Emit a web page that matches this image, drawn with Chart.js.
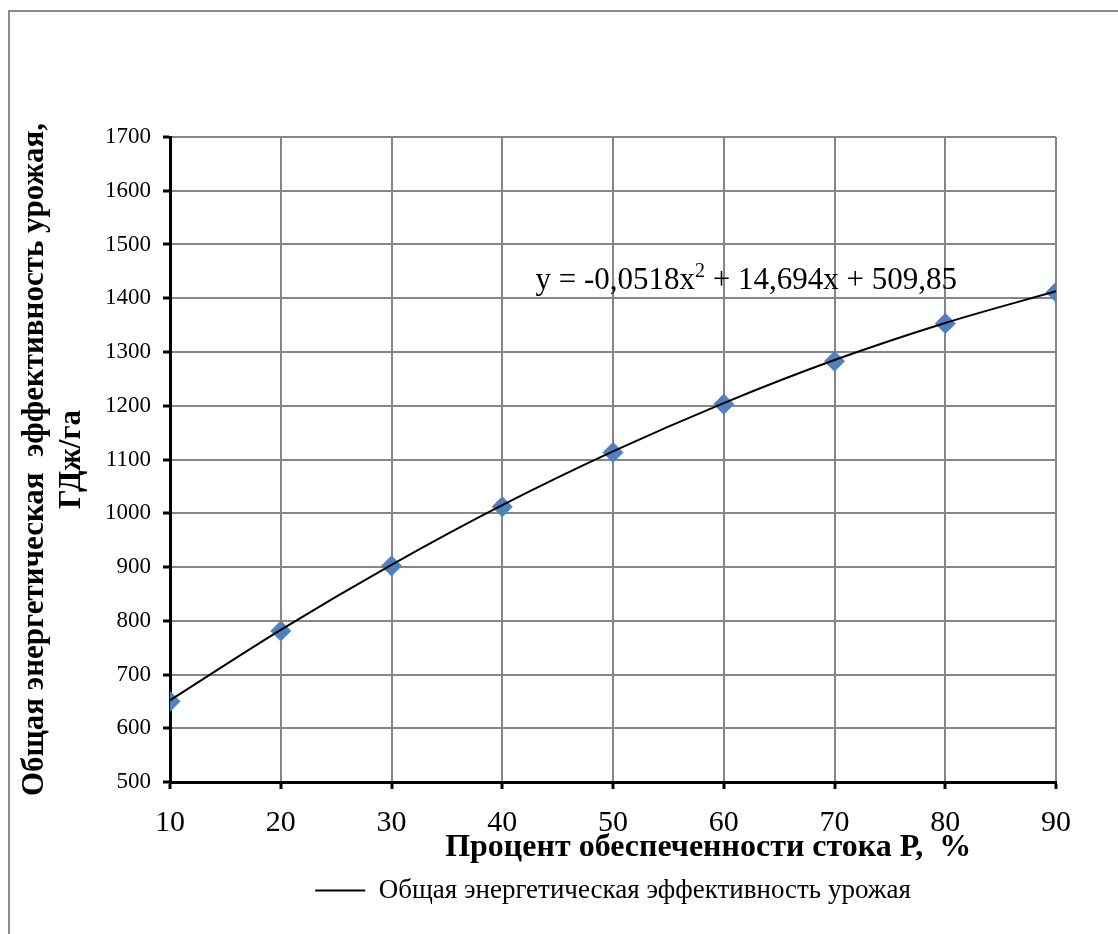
<!DOCTYPE html>
<html>
<head>
<meta charset="utf-8">
<style>
  html, body { margin: 0; padding: 0; background: #fff; }
  #wrap { position: relative; width: 1118px; height: 934px; }
</style>
<script src="https://cdn.jsdelivr.net/npm/chart.js@4"></script>
</head>
<body>
<div id="wrap"><canvas id="energyChart" width="1118" height="934"></canvas></div>
<script>
// 데이터
const percentP = [10, 20, 30, 40, 50, 60, 70, 80, 90];
const energyValues = [650, 781, 902, 1012, 1113, 1203, 1283, 1353, 1411];
const trendValues = [652, 783, 904, 1015, 1115, 1205, 1285, 1354, 1413];
const seriesName = 'Общая энергетическая эффективность урожая';
const yTitle = ['Общая энергетическая  эффективность урожая,', 'ГДж/га'];
const xTitle = 'Процент обеспеченности стока Р,  %';
const equationText = 'y = -0,0518x';
const equationRest = ' + 14,694x + 509,85';

const serif = '"Liberation Serif", "Times New Roman", serif';

// 바깥 테두리 + x축 제목 + 추세선 수식
const decorPlugin = {
  id: 'decor',
  beforeDraw(chart) {
    const ctx = chart.ctx;
    ctx.save();
    ctx.fillStyle = '#fff';
    ctx.fillRect(0, 0, chart.width, chart.height);
    ctx.strokeStyle = '#8c8c8c';
    ctx.lineWidth = 2;
    ctx.strokeRect(9, 11, 1300, 1100);
    ctx.restore();
  },
  afterDraw(chart) {
    const ctx = chart.ctx;
    const xs = chart.scales.x;
    const ys = chart.scales.y;
    ctx.save();
    ctx.fillStyle = '#000';
    // x축 제목
    ctx.font = 'bold 32px ' + serif;
    ctx.textAlign = 'center';
    ctx.textBaseline = 'middle';
    ctx.fillText(xTitle, xs.getPixelForValue(58.6), 848);
    // 수식
    ctx.font = '31px ' + serif;
    ctx.textAlign = 'left';
    ctx.textBaseline = 'alphabetic';
    let ex = xs.getPixelForValue(43.0);
    const ey = ys.getPixelForValue(1418);
    ctx.fillText(equationText, ex, ey);
    ex += ctx.measureText(equationText).width;
    ctx.font = '20px ' + serif;
    ctx.fillText('2', ex, ey - 12);
    ex += ctx.measureText('2').width;
    ctx.font = '31px ' + serif;
    ctx.fillText(equationRest, ex, ey);
    ctx.restore();
  }
};

const ctx = document.getElementById('energyChart');

new Chart(ctx, {
  type: 'scatter',
  data: {
    datasets: [
      {
        type: 'line',
        label: seriesName,
        data: percentP.map((p, i) => ({ x: p, y: trendValues[i] })),
        borderColor: '#000',
        backgroundColor: '#000',
        borderWidth: 2,
        pointRadius: 0,
        cubicInterpolationMode: 'monotone',
        fill: false,
        order: 1
      },
      {
        label: 'points',
        data: percentP.map((p, i) => ({ x: p, y: energyValues[i] })),
        pointStyle: 'rectRot',
        pointRadius: 10,
        pointHoverRadius: 10,
        backgroundColor: '#4f81bd',
        borderColor: '#4f81bd',
        borderWidth: 1,
        order: 2
      }
    ]
  },
  options: {
    responsive: false,
    animation: false,
    layout: {
      padding: { left: 0, top: 137, right: 62, bottom: 20 }
    },
    plugins: {
      tooltip: { enabled: false },
      legend: {
        display: true,
        position: 'bottom',
        fullSize: false,
        labels: {
          filter: item => item.datasetIndex === 0,
          usePointStyle: true,
          pointStyle: 'line',
          pointStyleWidth: 50,
          boxHeight: 10,
          color: '#000',
          padding: 10,
          font: { family: serif, size: 27 }
        }
      }
    },
    scales: {
      x: {
        type: 'linear',
        min: 10,
        max: 90,
        afterFit: axis => { axis.height = 85; },
        ticks: {
          stepSize: 10,
          color: '#000',
          padding: 16,
          font: { family: serif, size: 30 }
        },
        grid: {
          color: '#868686',
          lineWidth: 2,
          tickColor: '#000',
          tickWidth: 3,
          tickLength: 7
        },
        border: { color: '#000', width: 3 }
      },
      y: {
        min: 500,
        max: 1700,
        afterFit: axis => { axis.width = 170; },
        ticks: {
          stepSize: 100,
          color: '#000',
          padding: 12,
          font: { family: serif, size: 23 },
          callback: value => String(value)
        },
        grid: {
          color: '#868686',
          lineWidth: 2,
          tickColor: '#000',
          tickWidth: 3,
          tickLength: 7
        },
        border: { color: '#000', width: 3 },
        title: {
          display: true,
          text: yTitle,
          color: '#000',
          padding: { top: 16, bottom: 0 },
          font: { family: serif, size: 31, weight: 'bold', lineHeight: 1.2 }
        }
      }
    }
  },
  plugins: [decorPlugin]
});
</script>
</body>
</html>
